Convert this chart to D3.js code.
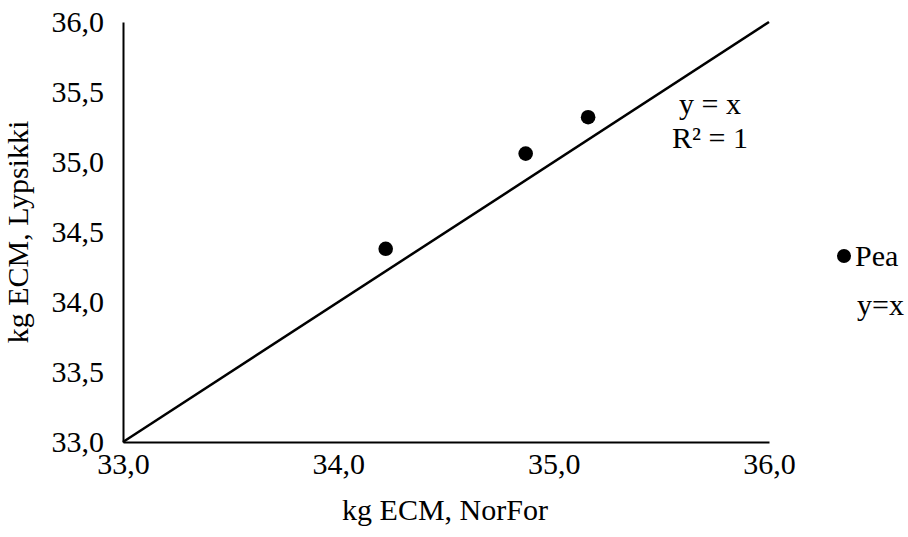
<!DOCTYPE html>
<html>
<head>
<meta charset="utf-8">
<script src="https://cdn.jsdelivr.net/npm/d3@7"></script>
<style>
  html, body { margin: 0; padding: 0; background: #fff; }
  svg { display: block; }
</style>
</head>
<body>
<svg id="chart" width="908" height="537"></svg>
<script>
// Data
const seriesName = "Pea";
const xValues = [34.22, 34.87, 35.16];   // kg ECM, NorFor
const yValues = [34.38, 35.06, 35.32];   // kg ECM, Lypsikki
const trendX = [33.0, 36.0];             // y = x line
const xTicks = [33.0, 34.0, 35.0, 36.0];
const yTicks = [33.0, 33.5, 34.0, 34.5, 35.0, 35.5, 36.0];
const xTitle = "kg ECM, NorFor";
const yTitle = "kg ECM, Lypsikki";
const trendLabel = ["y = x", "R² = 1"];
const legendLabels = ["Pea", "y=x"];

const FONT = "Liberation Serif";
const FS = 30;
const svg = d3.select("#chart");
const margin = { left: 123, right: 908 - 769, top: 22, bottom: 537 - 442 };
const W = 908, H = 537;
const fmt = d => d.toFixed(1).replace(".", ",");
const styleText = sel => sel.attr("font-family", FONT).attr("font-size", FS)
  .style("font-family", FONT).style("font-size", FS + "px").attr("fill", "#000");

const x = d3.scaleLinear().domain([33, 36]).range([margin.left, W - margin.right]);
const y = d3.scaleLinear().domain([33, 36]).range([H - margin.bottom, margin.top]);

// Axes
const xAxis = svg.append("g")
  .attr("transform", `translate(0,${y(33)})`)
  .call(d3.axisBottom(x).tickValues(xTicks).tickFormat(fmt).tickSize(0).tickPadding(11));
xAxis.attr("font-family", FONT).attr("font-size", FS);
xAxis.select(".domain").attr("stroke", "#000").attr("stroke-width", 2);
styleText(xAxis.selectAll("text"));

const yAxis = svg.append("g")
  .attr("transform", `translate(${x(33)},0)`)
  .call(d3.axisLeft(y).tickValues(yTicks).tickFormat(fmt).tickSize(0).tickPadding(19));
yAxis.attr("font-family", FONT).attr("font-size", FS);
yAxis.select(".domain").attr("stroke", "#000").attr("stroke-width", 2);
styleText(yAxis.selectAll("text"));

// Trend line y = x
const line = d3.line().x(d => x(d)).y(d => y(d));
svg.append("path")
  .datum(trendX)
  .attr("d", line)
  .attr("fill", "none")
  .attr("stroke", "#000")
  .attr("stroke-width", 2.5);

// Points
svg.selectAll("circle.pt")
  .data(xValues.map((v, i) => [v, yValues[i]]))
  .enter().append("circle")
  .attr("class", "pt")
  .attr("cx", d => x(d[0]))
  .attr("cy", d => y(d[1]))
  .attr("r", 7.3)
  .attr("fill", "#000");

// Trendline label
styleText(svg.append("text").attr("x", 710).attr("y", 114).attr("text-anchor", "middle")).text(trendLabel[0]);
styleText(svg.append("text").attr("x", 710).attr("y", 148).attr("text-anchor", "middle")).text(trendLabel[1]);

// Axis titles
styleText(svg.append("text").attr("x", 445).attr("y", 520).attr("text-anchor", "middle")).text(xTitle);
styleText(svg.append("text").attr("transform", `translate(28,${y(34.5)}) rotate(-90)`)
  .attr("text-anchor", "middle")).text(yTitle);

// Legend
svg.append("circle").attr("cx", 844).attr("cy", 256).attr("r", 7).attr("fill", "#000");
styleText(svg.append("text").attr("x", 855).attr("y", 266)).text(legendLabels[0]);
styleText(svg.append("text").attr("x", 857).attr("y", 315)).text(legendLabels[1]);
</script>
</body>
</html>
